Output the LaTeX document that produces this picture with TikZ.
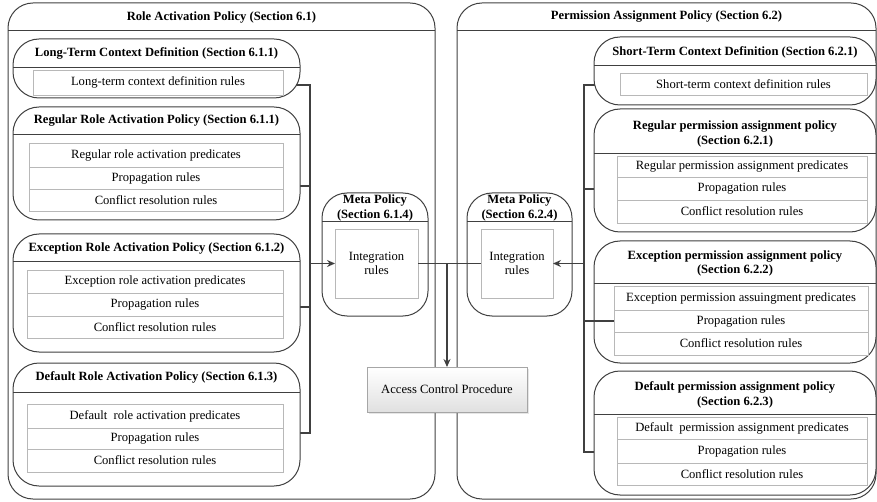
\documentclass[tikz,border=0pt]{standalone}
\usepackage{fontspec}
\setmainfont{Liberation Serif}
\usetikzlibrary{arrows.meta,fit,shadows}
\pgfdeclarelayer{wires}
\pgfsetlayers{wires,main}

\tikzset{
  basefont/.style={font=\fontsize{12.6}{14.5}\selectfont},
  frame/.style={draw=black!75, line width=1pt},
  container/.style={frame, rounded corners=25pt, inner sep=0pt, outer sep=0pt},
  policy/.style={frame, fill=white, rounded corners=26pt, inner sep=0pt, outer sep=0pt},
  rulerow/.style={draw=black!28, line width=0.7pt, fill=white, inner sep=0pt, outer sep=0pt},
  rowtext/.style={basefont, align=center, inner sep=0pt},
  heading/.style={font=\fontsize{12.6}{14.5}\selectfont\bfseries, align=center, inner sep=0pt},
  wire/.style={draw=black!75, line width=1.1pt},
  tip/.style={-{Stealth[length=8pt,width=7pt]}},
  access/.style={draw=black!35, line width=0.6pt, top color=white, bottom color=black!12,
                 drop shadow={opacity=0.2, shadow xshift=1.5pt, shadow yshift=-1.5pt},
                 inner sep=0pt, outer sep=0pt}
}

% policy box: name, x1, y1, x2, y2, header line y, title, title y
\newcommand\polbox[8]{%
  \node[policy, fit={(#2,#3) (#4,#5)}] (#1) {};
  \draw[frame] (#1.west |- 0,#6) -- (#1.east |- 0,#6);
  \node[heading] (#1-title) at (#1.north |- 0,#8) {#7};
}
% container box: same arguments, no fill
\newcommand\contbox[8]{%
  \node[container, fit={(#2,#3) (#4,#5)}] (#1) {};
  \draw[frame] (#1.west |- 0,#6) -- (#1.east |- 0,#6);
  \node[heading] (#1-title) at (#1.north |- 0,#8) {#7};
}
% rule row: name, x1, y1, x2, y2, text
\newcommand\rulebox[6]{%
  \node[rulerow, fit={(#2,#3) (#4,#5)}] (#1) {};
  \node[rowtext] (#1-text) at (#1.center) {#6};
}

\begin{document}
\begin{tikzpicture}[x=1pt, y=-1pt]
\useasboundingbox (0,0) rectangle (877,502);

% outer containers
\contbox{RA}{8}{3}{435}{499}{31}{Role Activation Policy (Section 6.1)}{17}
\contbox{PA}{457}{3}{876}{499}{31}{Permission Assignment Policy (Section 6.2)}{17}

% role activation side
\polbox{LT}{13}{39}{300}{98}{68}{Long-Term Context Definition (Section 6.1.1)}{53.5}
\rulebox{LTr}{33}{70}{283}{95}{Long-term context definition rules}

\polbox{RR}{13}{107}{300}{220}{135}{Regular Role Activation Policy (Section 6.1.1)}{121}
\rulebox{RRr1}{29}{143}{283}{167}{Regular role activation predicates}
\rulebox{RRr2}{29}{167}{283}{189}{Propagation rules}
\rulebox{RRr3}{29}{189}{283}{211}{Conflict resolution rules}

\polbox{ER}{13}{234}{300}{352}{262}{Exception Role Activation Policy (Section 6.1.2)}{248}
\rulebox{ERr1}{27}{270}{283}{293}{Exception role activation predicates}
\rulebox{ERr2}{27}{293}{283}{316}{Propagation rules}
\rulebox{ERr3}{27}{316}{283}{338}{Conflict resolution rules}

\polbox{DR}{13}{363}{300}{486}{392}{Default Role Activation Policy (Section 6.1.3)}{377.5}
\rulebox{DRr1}{27}{404}{283}{428}{Default\ \ role activation predicates}
\rulebox{DRr2}{27}{428}{283}{449}{Propagation rules}
\rulebox{DRr3}{27}{449}{283}{472}{Conflict resolution rules}

% permission assignment side
\polbox{ST}{594}{37}{876}{105}{66}{Short-Term Context Definition (Section 6.2.1)}{52.5}
\rulebox{STr}{620}{73}{867}{95}{Short-term context definition rules}

\polbox{RP}{594}{109}{876}{232}{154}{Regular permission assignment policy\\(Section 6.2.1)}{134}
\rulebox{RPr1}{617}{156}{867}{177}{Regular permission assignment predicates}
\rulebox{RPr2}{617}{177}{867}{200}{Propagation rules}
\rulebox{RPr3}{617}{200}{867}{223}{Conflict resolution rules}

\polbox{EP}{594}{241}{876}{363}{284}{Exception permission assignment policy\\(Section 6.2.2)}{263.5}
\rulebox{EPr1}{614}{286}{868}{310}{Exception permission assuingment predicates}
\rulebox{EPr2}{614}{310}{868}{332}{Propagation rules}
\rulebox{EPr3}{614}{332}{868}{355}{Conflict resolution rules}

\polbox{DP}{594}{371}{876}{495}{414}{Default permission assignment policy\\(Section 6.2.3)}{395}
\rulebox{DPr1}{617}{417}{867}{439}{Default\ \ permission assignment predicates}
\rulebox{DPr2}{617}{439}{867}{463}{Propagation rules}
\rulebox{DPr3}{617}{463}{867}{485}{Conflict resolution rules}

% meta policies
\contbox{M1}{322}{193}{428}{316}{222}{Meta Policy\\(Section 6.1.4)}{208}
\rulebox{M1i}{335}{229}{418}{298}{Integration\\rules}
\contbox{M2}{467}{193}{572}{316}{222}{Meta Policy\\(Section 6.2.4)}{208}
\rulebox{M2i}{481}{229}{553}{298}{Integration\\rules}

% access control procedure
\node[access, fit={(367,367) (527,412)}] (ACP) {};
\node[rowtext] (ACP-text) at (ACP.center) {Access Control Procedure};

% bus coordinates
\coordinate (lbus) at (310,0);
\coordinate (rbus) at (584,0);

% collecting lines, tucked behind the policy boxes
\begin{pgfonlayer}{wires}
  \draw[wire] (LTr.east |- 0,85) -- (lbus |- 0,85) -- (lbus |- 0,433) -- (DRr2.east |- 0,433);
  \draw[wire] (RRr2.east |- 0,186) -- (lbus |- 0,186);
  \draw[wire] (ERr2.east |- 0,307) -- (lbus |- 0,307);
  \draw[wire] (STr.west |- 0,85) -- (rbus |- 0,85) -- (rbus |- 0,452) -- (DPr2.west |- 0,452);
  \draw[wire] (RPr1.west |- 0,189) -- (rbus |- 0,189);
\end{pgfonlayer}

% lines drawn over the boxes
\draw[wire] (EPr2.west) -- (rbus |- EPr2.west);
\draw[wire, tip] (lbus |- M1i.west) -- (M1i.west);
\draw[wire, tip] (rbus |- M2i.east) -- (M2i.east);
\draw[wire] (M1i.east) -- (M2i.west);
\draw[wire, tip] (M1i.east -| ACP.north) -- (ACP.north);
\end{tikzpicture}
\end{document}
